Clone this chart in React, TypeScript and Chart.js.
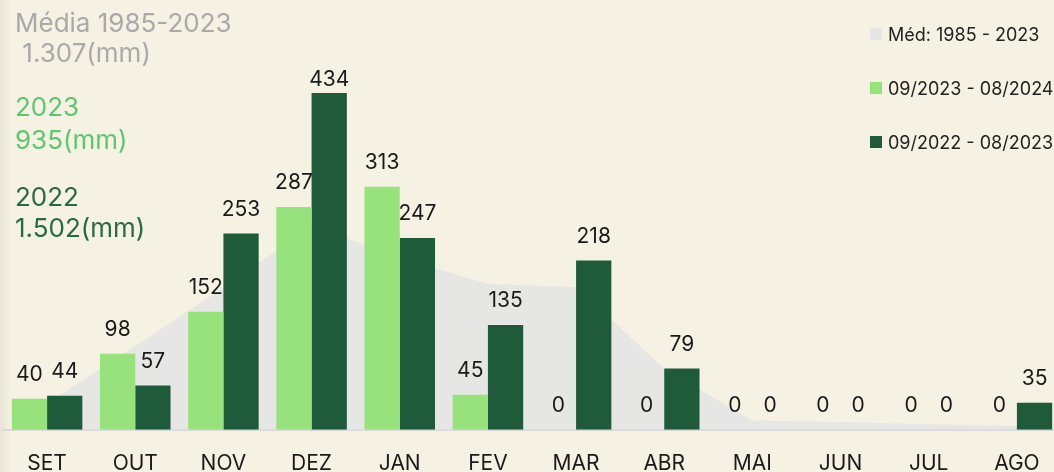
import React, { useEffect, useRef } from "react";
import { Chart, registerables } from "chart.js";

Chart.register(...registerables);

const months = ["SET", "OUT", "NOV", "DEZ", "JAN", "FEV", "MAR", "ABR", "MAI", "JUN", "JUL", "AGO"];
const avg19852023 = [34, 108, 183, 263, 222, 188, 184, 79, 12, 10, 7, 5];
const season2023 = [40, 98, 152, 287, 313, 45, 0, 0, 0, 0, 0, 0];
const season2022 = [44, 57, 253, 434, 247, 135, 218, 79, 0, 0, 0, 35];

const seriesLabels = ["Méd: 1985 - 2023", "09/2023 - 08/2024", "09/2022 - 08/2023"];
const seriesColors = ["#E6E6E5", "#98E27E", "#1F5A3A"];

const BG = "#F5F1E3";
const FONT = "Inter, 'Noto Sans', sans-serif";

const valueLabels = {
  id: "valueLabels",
  afterDatasetsDraw(chart: any) {
    const { ctx, chartArea } = chart;
    ctx.save();
    ctx.font = `21px ${FONT}`;
    ctx.fillStyle = "#1A1A1A";
    ctx.textAlign = "center";
    ctx.textBaseline = "middle";
    chart.data.datasets.forEach((ds: any, i: number) => {
      if (ds.type === "line") return;
      const meta = chart.getDatasetMeta(i);
      meta.data.forEach((el: any, j: number) => {
        const y = Math.max(el.y - 24, chartArea.top + 15);
        ctx.fillText(String(ds.data[j]), el.x, y);
      });
    });
    ctx.restore();
  },
};

export default function App() {
  const ref = useRef<HTMLCanvasElement>(null);
  useEffect(() => {
    if (!ref.current) return;
    const chart = new Chart(ref.current, {
      type: "bar",
      data: {
        labels: months,
        datasets: [
          {
            type: "line",
            label: seriesLabels[0],
            data: avg19852023,
            fill: "origin",
            backgroundColor: seriesColors[0],
            borderWidth: 0,
            pointRadius: 0,
            tension: 0,
            order: 2,
          } as any,
          {
            label: seriesLabels[1],
            data: season2023,
            backgroundColor: seriesColors[1],
            categoryPercentage: 0.8,
            barPercentage: 1.0,
            order: 1,
          },
          {
            label: seriesLabels[2],
            data: season2022,
            backgroundColor: seriesColors[2],
            categoryPercentage: 0.8,
            barPercentage: 1.0,
            order: 1,
          },
        ],
      },
      options: {
        animation: false,
        responsive: false,
        devicePixelRatio: 1,
        layout: { padding: { left: 3, right: 3, top: 65, bottom: 0 } },
        plugins: { legend: { display: false }, tooltip: { enabled: false } },
        scales: {
          x: {
            grid: { display: false, drawTicks: false },
            border: { display: true, color: "#D9D9D9", width: 2 },
            ticks: { color: "#1A1A1A", font: { family: FONT, size: 21 }, padding: 21 },
          },
          y: { display: false, min: 0, max: 470 },
        },
      },
      plugins: [valueLabels],
    });
    return () => chart.destroy();
  }, []);

  return (
    <div
      style={{
        position: "fixed",
        left: 0,
        top: 0,
        width: 1054,
        height: 472,
        overflow: "hidden",
        background: BG,
        fontFamily: FONT,
      }}
    >
      <div
        style={{
          position: "absolute",
          left: 0,
          top: 0,
          width: 12,
          height: 472,
          background: `linear-gradient(to right, #E8E5D7, ${BG})`,
        }}
      />
      <canvas ref={ref} width={1064} height={497} style={{ position: "absolute", left: 0, top: 0 }} />
      <div style={{ position: "absolute", left: 15, top: 8, fontSize: 26, lineHeight: "30px", color: "#A9A9A9", whiteSpace: "pre" }}>
        {"Média 1985-2023\n 1.307(mm)"}
      </div>
      <div style={{ position: "absolute", left: 15, top: 90, fontSize: 26, lineHeight: "33px", color: "#5FC56E", whiteSpace: "pre" }}>
        {"2023\n935(mm)"}
      </div>
      <div style={{ position: "absolute", left: 15, top: 181, fontSize: 26, lineHeight: "31px", color: "#2A6A3F", whiteSpace: "pre" }}>
        {"2022\n1.502(mm)"}
      </div>
      {seriesLabels.map((lab, i) => (
        <div
          key={lab}
          style={{
            position: "absolute",
            left: 870,
            top: 24 + i * 54,
            height: 20,
            display: "flex",
            alignItems: "center",
            fontSize: 18,
            color: "#222",
            whiteSpace: "nowrap",
          }}
        >
          <span style={{ display: "inline-block", width: 12, height: 12, background: seriesColors[i], marginRight: 6 }} />
          {lab}
        </div>
      ))}
    </div>
  );
}
